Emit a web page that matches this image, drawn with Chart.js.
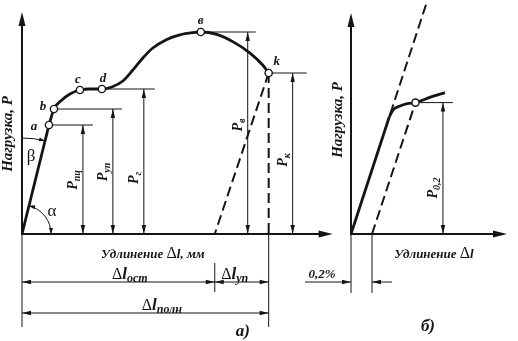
<!DOCTYPE html>
<html>
<head>
<meta charset="utf-8">
<script src="https://cdn.jsdelivr.net/npm/chart.js@4/dist/chart.umd.min.js"></script>
<style>
    html, body { margin: 0; padding: 0; background: #fff; }
    #wrap { position: relative; width: 518px; height: 341px; overflow: hidden; }
    #wrap canvas { position: absolute; top: 0; }
</style>
</head>
<body>
<div id="wrap">
    <canvas id="chart-a" width="338" height="341" style="left:0"></canvas>
    <canvas id="chart-b" width="222" height="341" style="left:296px"></canvas>
</div>
<script>
// --- а) диаграмма растяжения: удлинение (мм) / нагрузка ---
const pointNames = ['a', 'b', 'c', 'd', 'в', 'k'];
const pointElong = [1.35, 1.6, 2.9, 4.0, 8.95, 12.35];
const pointLoad = [54.5, 62.5, 72, 72.5, 101, 80.5];

const curveElong = [1.35, 1.6, 2.0, 2.4, 2.9, 3.4, 4.0, 4.5, 5.05, 5.55, 6.05, 6.55, 7.25, 7.9, 8.55, 8.95, 9.75, 10.55, 11.4, 12.05, 12.35];
const curveLoad = [54.5, 62.5, 67, 70, 72, 72.5, 72.5, 73.5, 76.5, 82, 88, 93, 97.3, 99.6, 100.7, 101, 99.8, 96.2, 90.6, 84.5, 80.5];

const residualElong = 9.65;   // после разгрузки из точки k

const limitNames = ['пц', 'уп', 'г', 'в', 'к'];
const limitPoint = [0, 1, 3, 4, 5];
const limitDimElong = [3.05, 4.55, 6.1, 11.3, 13.55];
const leaderEndElong = [3.55, 5.0, 6.65, 11.7, 14.25];

// --- б) условный предел текучести ---
const elasticBElong = [0, 0.365];
const elasticBLoad = [0, 58.6];
const curveBElong = [0.365, 0.40, 0.467, 0.546, 0.614, 0.752, 0.895];
const curveBLoad = [58.6, 62, 64, 65.3, 65.7, 68.3, 70.7];
const offsetB = 0.2;           // 0,2 %
const proofElong = 0.614;
const proofLoad = 65.7;

const INK = '#141414';
const SERIF = '"Liberation Serif", "DejaVu Serif", serif';
const fLabel = `bold italic 13px ${SERIF}`;
const fAxis = `bold italic 15px ${SERIF}`;
const fP = `bold italic 14px ${SERIF}`;
const fSub = `bold italic 10px ${SERIF}`;
const fGreek = `17px ${SERIF}`;
const fDelta = `16px ${SERIF}`;
const fL = `bold italic 17px ${SERIF}`;
const fLsub = `bold italic 12px ${SERIF}`;
const fPanel = `bold italic 17px ${SERIF}`;

const pts = (xs, ys) => xs.map((v, i) => ({ x: v, y: ys[i] }));

function line(ctx, x1, y1, x2, y2, w) {
    ctx.lineWidth = w || 1;
    ctx.beginPath();
    ctx.moveTo(x1, y1);
    ctx.lineTo(x2, y2);
    ctx.stroke();
}

function arrowHead(ctx, x, y, ang, len, half) {
    ctx.save();
    ctx.translate(x, y);
    ctx.rotate(ang);
    ctx.beginPath();
    ctx.moveTo(0, 0);
    ctx.lineTo(-len, -half);
    ctx.lineTo(-len, half);
    ctx.closePath();
    ctx.fill();
    ctx.restore();
}

function dimV(ctx, x, yTop, yBot) {
    line(ctx, x, yTop, x, yBot, 1);
    arrowHead(ctx, x, yTop, -Math.PI / 2, 9, 2.2);
    arrowHead(ctx, x, yBot, Math.PI / 2, 9, 2.2);
}

function dimH(ctx, x1, x2, y) {
    line(ctx, x1, y, x2, y, 1);
    arrowHead(ctx, x1, y, Math.PI, 9, 2.2);
    arrowHead(ctx, x2, y, 0, 9, 2.2);
}

// parts: [text, font, dy]
function rich(ctx, parts, x, y, align) {
    let w = 0;
    parts.forEach(p => { ctx.font = p[1]; w += ctx.measureText(p[0]).width; });
    let cx = align === 'center' ? x - w / 2 : align === 'right' ? x - w : x;
    ctx.textAlign = 'left';
    ctx.textBaseline = 'alphabetic';
    parts.forEach(p => {
        ctx.font = p[1];
        ctx.fillText(p[0], cx, y + (p[2] || 0));
        cx += ctx.measureText(p[0]).width;
    });
}

function richUp(ctx, parts, x, y) {
    ctx.save();
    ctx.translate(x, y);
    ctx.rotate(-Math.PI / 2);
    rich(ctx, parts, 0, 4, 'center');
    ctx.restore();
}

const deltaL = sub => [['Δ', fDelta], ['l', fL], [sub, fLsub, 3]];
const loadP = sub => [['P', fP], [sub, fSub, 3]];

const sketchA = {
    id: 'sketchA',
    beforeDatasetsDraw(chart) {
        const { ctx, chartArea: area, scales } = chart;
        const X = v => scales.x.getPixelForValue(v);
        const Y = v => scales.y.getPixelForValue(v);
        const x0 = X(0), y0 = Y(0);
        ctx.save();
        ctx.strokeStyle = INK;
        ctx.fillStyle = INK;

        // оси
        line(ctx, x0, y0 + 1, x0, area.top + 10, 2);
        arrowHead(ctx, x0, area.top, -Math.PI / 2, 14, 3.5);
        line(ctx, x0, y0, area.right - 10, y0, 2);
        arrowHead(ctx, area.right, y0, 0, 14, 3.5);

        // выносные линии и размеры нагрузок
        limitPoint.forEach((p, i) => {
            const py = Y(pointLoad[p]);
            line(ctx, X(pointElong[p]), py, X(leaderEndElong[i]), py, 1);
            dimV(ctx, X(limitDimElong[i]), py, y0);
        });
        const labelLoad = [27, 31, 28, 54.5, 37];
        limitNames.forEach((n, i) => {
            richUp(ctx, loadP(n), X(limitDimElong[i]) - 10, Y(labelLoad[i]));
        });

        // углы α и β
        const ax = X(pointElong[0]), ay = Y(pointLoad[0]);
        const ang = Math.atan2(ay - y0, ax - x0);
        ctx.lineWidth = 1;
        ctx.beginPath();
        ctx.arc(x0, y0, 29, ang, 0);
        ctx.stroke();
        arrowHead(ctx, x0 + 29, y0, Math.PI / 2, 6, 2);
        arrowHead(ctx, x0 + 29 * Math.cos(ang), y0 + 29 * Math.sin(ang),
            Math.atan2(-Math.cos(ang), Math.sin(ang)), 6, 2);
        ctx.beginPath();
        ctx.arc(x0, y0, 96, -Math.PI / 2, ang);
        ctx.stroke();
        arrowHead(ctx, x0 + 96 * Math.cos(ang), y0 + 96 * Math.sin(ang),
            Math.atan2(Math.cos(ang), -Math.sin(ang)), 6, 2);
        ctx.font = fGreek;
        ctx.textAlign = 'center';
        ctx.textBaseline = 'middle';
        ctx.fillText('α', x0 + 30, y0 - 22);
        ctx.fillText('β', x0 + 9, y0 - 77);

        // буквы у точек
        const offs = [[-15, 2], [-11, -2], [-2, -10], [1, -10], [0, -11], [8, -11]];
        ctx.font = fLabel;
        pointNames.forEach((n, i) => {
            ctx.fillText(n, X(pointElong[i]) + offs[i][0], Y(pointLoad[i]) + offs[i][1]);
        });

        // размеры удлинений под осью
        const xk = X(pointElong[5]), xr = X(residualElong);
        line(ctx, xk, y0, xk, y0 + 93, 1);
        line(ctx, x0, y0, x0, y0 + 93, 1);
        line(ctx, xr, y0 + 29, xr, y0 + 58, 1);
        dimH(ctx, x0, xr, y0 + 48);
        dimH(ctx, xr, xk, y0 + 48);
        dimH(ctx, x0, xk, y0 + 79);
        rich(ctx, deltaL('ост'), X(5.4), y0 + 45, 'center');
        rich(ctx, deltaL('уп'), X(10.65), y0 + 45, 'center');
        rich(ctx, deltaL('полн'), X(7.0), y0 + 76, 'center');

        rich(ctx, [['Удлинение ', fLabel], ['Δ', fDelta], ['l, мм', fLabel]], X(6.55), y0 + 24, 'center');
        richUp(ctx, [['Нагрузка, P', fAxis]], x0 - 14, Y(50));
        rich(ctx, [['а)', fPanel]], X(11.05), y0 + 102, 'center');
        ctx.restore();
    }
};

const sketchB = {
    id: 'sketchB',
    beforeDatasetsDraw(chart) {
        const { ctx, chartArea: area, scales } = chart;
        const X = v => scales.x.getPixelForValue(v);
        const Y = v => scales.y.getPixelForValue(v);
        const x0 = X(0), y0 = Y(0), x1 = X(offsetB);
        ctx.save();
        ctx.strokeStyle = INK;
        ctx.fillStyle = INK;

        line(ctx, x0, y0 + 1, x0, area.top + 10, 2);
        arrowHead(ctx, x0, area.top, -Math.PI / 2, 14, 3.5);
        line(ctx, x0, y0, area.right - 10, y0, 2);
        arrowHead(ctx, area.right, y0, 0, 14, 3.5);

        // допуск 0,2 %
        line(ctx, x0, y0, x0, y0 + 59, 1);
        line(ctx, x1, y0, x1, y0 + 59, 1);
        line(ctx, x0 - 46, y0 + 48, x0, y0 + 48, 1);
        arrowHead(ctx, x0, y0 + 48, 0, 9, 2.2);
        line(ctx, x1 + 20, y0 + 48, x1, y0 + 48, 1);
        arrowHead(ctx, x1, y0 + 48, Math.PI, 9, 2.2);
        rich(ctx, [['0,2%', fLabel]], x0 - 29, y0 + 44, 'center');

        // P0,2
        const py = Y(proofLoad);
        line(ctx, X(proofElong), py, X(0.97), py, 1);
        dimV(ctx, X(0.876), py, y0);
        richUp(ctx, loadP('0,2'), X(0.876) - 10, Y(23));

        richUp(ctx, [['Нагрузка, P', fAxis]], x0 - 13, Y(57));
        rich(ctx, [['Удлинение ', fLabel], ['Δ', fDelta], ['l', fLabel]], X(0.79), y0 + 24, 'center');
        rich(ctx, [['б)', fPanel]], X(0.733), y0 + 97, 'center');
        ctx.restore();
    }
};

const markerStyle = {
    showLine: false,
    pointRadius: 3.6,
    pointBackgroundColor: '#fff',
    pointBorderColor: INK,
    pointBorderWidth: 1.4
};

const baseOptions = (padding, xMax, yMax) => ({
    responsive: false,
    animation: false,
    events: [],
    layout: { padding },
    scales: {
        x: { type: 'linear', min: 0, max: xMax, display: false },
        y: { type: 'linear', min: 0, max: yMax, display: false }
    },
    plugins: { legend: { display: false }, tooltip: { enabled: false } }
});

new Chart(document.getElementById('chart-a').getContext('2d'), {
    type: 'scatter',
    data: {
        datasets: [
            { data: pts(pointElong, pointLoad), ...markerStyle },
            { data: pts([0, pointElong[0]], [0, pointLoad[0]]), showLine: true, borderColor: INK, borderWidth: 2.8, pointRadius: 0 },
            { data: pts(curveElong, curveLoad), showLine: true, borderColor: INK, borderWidth: 2.8, pointRadius: 0, cubicInterpolationMode: 'monotone' },
            { data: pts([pointElong[5], residualElong], [pointLoad[5], 0]), showLine: true, borderColor: INK, borderWidth: 2, borderDash: [10, 5], pointRadius: 0 },
            { data: pts([pointElong[5], pointElong[5]], [pointLoad[5], 0]), showLine: true, borderColor: INK, borderWidth: 2, borderDash: [10, 5], pointRadius: 0 }
        ]
    },
    options: baseOptions({ left: 22, top: 12, right: 5, bottom: 107 }, 15.55, 111),
    plugins: [sketchA]
});

const slopeB = elasticBElong[1] / elasticBLoad[1];
new Chart(document.getElementById('chart-b').getContext('2d'), {
    type: 'scatter',
    data: {
        datasets: [
            { data: [{ x: proofElong, y: proofLoad }], ...markerStyle },
            { data: pts(elasticBElong, elasticBLoad), showLine: true, borderColor: INK, borderWidth: 2.8, pointRadius: 0 },
            { data: pts(curveBElong, curveBLoad), showLine: true, borderColor: INK, borderWidth: 2.8, pointRadius: 0, cubicInterpolationMode: 'monotone' },
            { data: pts([60 * slopeB, 117 * slopeB], [60, 117]), showLine: true, borderColor: INK, borderWidth: 2, borderDash: [10, 5], pointRadius: 0, clip: false },
            { data: pts([offsetB, proofElong], [0, proofLoad]), showLine: true, borderColor: INK, borderWidth: 2, borderDash: [10, 5], pointRadius: 0 }
        ]
    },
    options: baseOptions({ left: 55, top: 13, right: 11, bottom: 107 }, 1.486, 110.5),
    plugins: [sketchB]
});
</script>
</body>
</html>
